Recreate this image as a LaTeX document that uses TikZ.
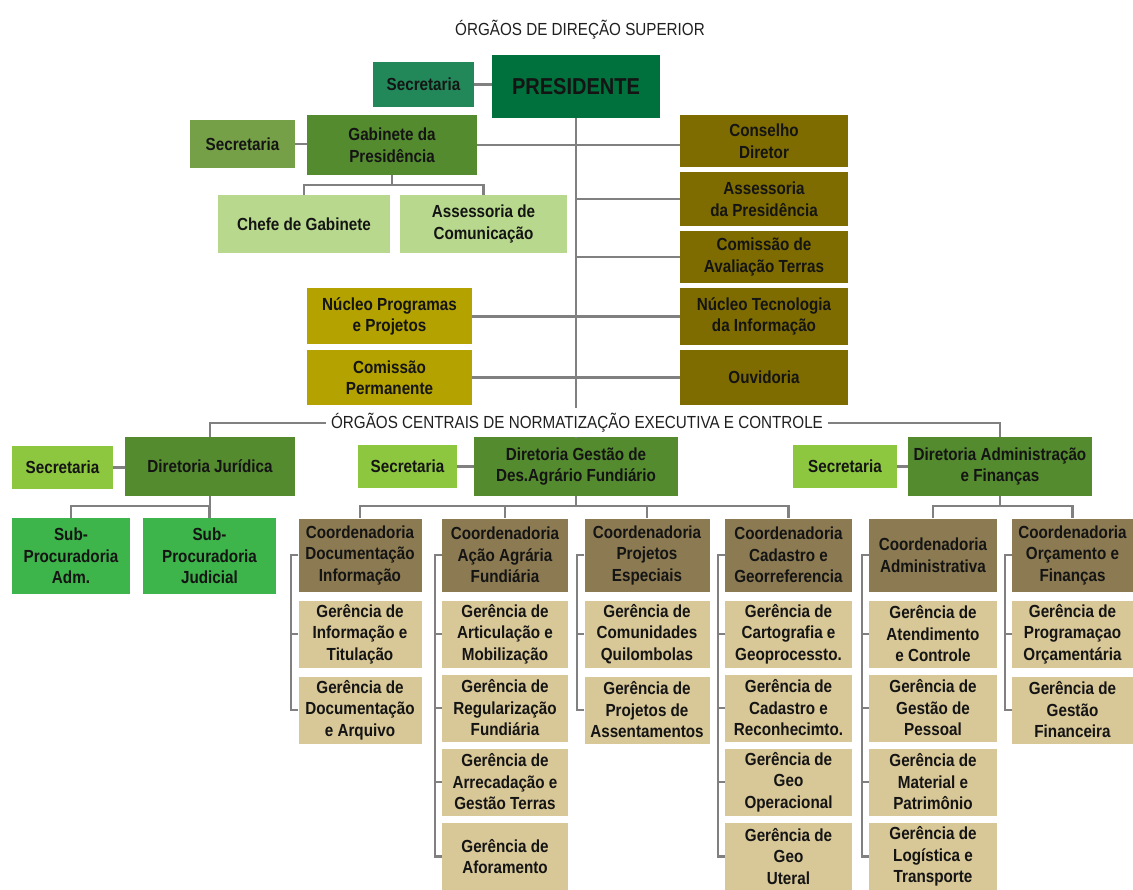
\documentclass[tikz,border=0pt]{standalone}
\usepackage{fontspec}
\setmainfont{Liberation Sans}[FakeStretch=0.87]

\definecolor{presgreen}{HTML}{00703C}
\definecolor{secteal}{HTML}{22885A}
\definecolor{gabgreen}{HTML}{558B2F}
\definecolor{secolive}{HTML}{76A047}
\definecolor{lightgreen}{HTML}{B8D98D}
\definecolor{olivedark}{HTML}{7E6C00}
\definecolor{mustard}{HTML}{B3A200}
\definecolor{seclight}{HTML}{8DC63F}
\definecolor{subgreen}{HTML}{3DB54A}
\definecolor{coordbrown}{HTML}{8C7B52}
\definecolor{gertan}{HTML}{D8C797}
\definecolor{linegray}{HTML}{808080}

\tikzset{
  box/.style={rectangle, align=center, inner sep=1pt, text=black!92,
    font=\bfseries\fontsize{17.5}{21.5}\selectfont},
  titulo/.style={inner sep=5pt, text=black!88, font=\fontsize{17.5}{20}\selectfont},
  link/.style={draw=linegray, line width=2.2pt},
  dir/.style={box, fill=gabgreen, minimum height=59pt},
  sec/.style={box, fill=seclight, minimum height=42pt},
  apoio/.style={box, fill=lightgreen, minimum height=58pt},
  orgao/.style={box, fill=olivedark, minimum width=168pt, minimum height=54pt},
  nucleo/.style={box, fill=mustard, minimum width=165pt, minimum height=56pt},
  sub/.style={box, fill=subgreen, minimum height=76pt},
  coord/.style={box, fill=coordbrown, minimum width=126pt, minimum height=73pt},
  ger/.style={box, fill=gertan, minimum width=126pt, minimum height=67pt}
}

\begin{document}
\begin{tikzpicture}[x=1pt, y=-1pt]
  \useasboundingbox (0,0) rectangle (1133,890);

  % Órgãos de direção superior
  \node[titulo] (t1) at (580,30) {ÓRGÃOS DE DIREÇÃO SUPERIOR};
  \node[box, fill=presgreen, minimum width=168pt, minimum height=63pt,
    font=\bfseries\fontsize{23}{26}\selectfont] (pres) at (576,86.5) {PRESIDENTE};
  \node[box, fill=secteal, minimum width=101pt, minimum height=45pt] (sec0) at (423.5,84.5) {Secretaria};
  \node[dir, minimum width=170pt, minimum height=60pt] (gab) at (392,145) {Gabinete da\\Presidência};
  \node[box, fill=secolive, minimum width=105pt, minimum height=48pt] (sec1) at (242.5,144) {Secretaria};
  \node[apoio, minimum width=172pt] (chefe) at (304,224) {Chefe de Gabinete};
  \node[apoio, minimum width=167pt] (ascom) at (483.5,224) {Assessoria de\\Comunicação};

  % Órgãos ligados ao tronco
  \node[orgao, minimum height=52pt] (cons) at (764,141) {Conselho\\Diretor};
  \node[orgao] (asspres) at (764,199) {Assessoria\\da Presidência};
  \node[orgao, minimum height=52pt] (comav) at (764,257) {Comissão de\\Avaliação Terras};
  \node[orgao, minimum height=57pt] (nutec) at (764,316.5) {Núcleo Tecnologia\\da Informação};
  \node[orgao, minimum height=55pt] (ouv) at (764,377.5) {Ouvidoria};
  \node[nucleo] (nuprog) at (389.5,316.5) {Núcleo Programas\\e Projetos};
  \node[nucleo, minimum height=55pt] (comper) at (389.5,377.5) {Comissão\\Permanente};

  % Ligações da presidência
  \draw[link] (sec0.east) -- (sec0.east -| pres.west);
  \draw[link] (sec1.east) -- (sec1.east -| gab.west);
  \draw[link] (gab.south) -- ++(0,10) coordinate (gbar);
  \draw[link] (gbar) -| (chefe.north);
  \draw[link] (gbar) -| (ascom.north);
  \draw[link] (gab.east) -- (gab.east -| cons.west);
  \draw[link] (asspres.west) -- (asspres.west -| pres.south);
  \draw[link] (comav.west) -- (comav.west -| pres.south);
  \draw[link] (nuprog.east) -- (nuprog.east -| nutec.west);
  \draw[link] (comper.east) -- (comper.east -| ouv.west);

  % Órgãos centrais
  \node[titulo] (t2) at (577,423) {ÓRGÃOS CENTRAIS DE NORMATIZAÇÃO EXECUTIVA E CONTROLE};
  \node[dir, minimum width=170pt] (dirjur) at (210,466.5) {Diretoria Jurídica};
  \node[sec, minimum width=101pt] (secj) at (62.5,467.5) {Secretaria};
  \node[sub, minimum width=118pt] (subadm) at (71,556) {Sub-\\Procuradoria\\Adm.};
  \node[sub, minimum width=133pt] (subjud) at (209.5,556) {Sub-\\Procuradoria\\Judicial};
  \node[dir, minimum width=204pt] (dirgest) at (576,466.5) {Diretoria Gestão de\\Des.Agrário Fundiário};
  \node[sec, minimum width=99pt] (secg) at (407.5,466.5) {Secretaria};
  \node[dir, minimum width=184pt] (diradm) at (1000,466.5) {Diretoria Administração\\e Finanças};
  \node[sec, minimum width=104pt] (seca) at (845,466.5) {Secretaria};

  \draw[link] (pres.south) -- (pres.south |- t2.north);
  \draw[link] (dirgest.north |- t2.south) -- (dirgest.north);
  \draw[link] (t2.west) -| (dirjur.north);
  \draw[link] (t2.east) -| (diradm.north);
  \draw[link] (secj.east) -- (secj.east -| dirjur.west);
  \draw[link] (secg.east) -- (secg.east -| dirgest.west);
  \draw[link] (seca.east) -- (seca.east -| diradm.west);
  \draw[link] (dirjur.south) -- ++(0,10) coordinate (jbar);
  \draw[link] (jbar) -| (subadm.north);
  \draw[link] (jbar) -| (subjud.north);

  % Coordenadorias
  \node[coord, minimum width=123pt] (cdoc) at (360,555) {Coordenadoria\\Documentação\\Informação};
  \node[coord] (cacao) at (505,555) {Coordenadoria\\Ação Agrária\\Fundiária};
  \node[coord, minimum width=125pt] (cproj) at (647,555) {Coordenadoria\\Projetos\\Especiais};
  \node[coord, minimum width=127pt] (ccad) at (788.5,555) {Coordenadoria\\Cadastro e\\Georreferencia};
  \node[coord, minimum width=128pt] (cadm) at (933,555) {Coordenadoria\\Administrativa};
  \node[coord, minimum width=121pt] (corc) at (1072.5,555) {Coordenadoria\\Orçamento e\\Finanças};

  \draw[link] (dirgest.south) -- ++(0,10) coordinate (dbar);
  \foreach \c in {cdoc,cacao,cproj,ccad}
    \draw[link] (dbar) -| (\c.north);
  \draw[link] (diradm.south) -- ++(0,10) coordinate (abar);
  \foreach \c in {cadm,corc}
    \draw[link] (abar) -| (\c.north);

  % Gerências
  \foreach \n/\y/\txt in {g11/634/{Gerência de\\Informação e\\Titulação},
                          g12/710/{Gerência de\\Documentação\\e Arquivo}}
    \node[ger, minimum width=123pt] (\n) at (360,\y) {\txt};
  \foreach \n/\y/\txt in {g21/634/{Gerência de\\Articulação e\\Mobilização},
                          g22/708/{Gerência de\\Regularização\\Fundiária},
                          g23/782/{Gerência de\\Arrecadação e\\Gestão Terras},
                          g24/856.5/{Gerência de\\Aforamento}}
    \node[ger] (\n) at (505,\y) {\txt};
  \foreach \n/\y/\txt in {g31/634/{Gerência de\\Comunidades\\Quilombolas},
                          g32/710/{Gerência de\\Projetos de\\Assentamentos}}
    \node[ger, minimum width=125pt] (\n) at (647,\y) {\txt};
  \foreach \n/\y/\txt in {g41/634/{Gerência de\\Cartografia e\\Geoprocessto.},
                          g42/708/{Gerência de\\Cadastro e\\Reconhecimto.},
                          g43/782/{Gerência de\\Geo\\Operacional},
                          g44/856.5/{Gerência de\\Geo\\Uteral}}
    \node[ger, minimum width=127pt] (\n) at (788.5,\y) {\txt};
  \foreach \n/\y/\txt in {g51/634/{Gerência de\\Atendimento\\e Controle},
                          g52/708/{Gerência de\\Gestão de\\Pessoal},
                          g53/782/{Gerência de\\Material e\\Patrimônio},
                          g54/856.5/{Gerência de\\Logística e\\Transporte}}
    \node[ger, minimum width=128pt] (\n) at (933,\y) {\txt};
  \foreach \n/\y/\txt in {g61/634/{Gerência de\\Programaçao\\Orçamentária},
                          g62/710/{Gerência de\\Gestão\\Financeira}}
    \node[ger, minimum width=121pt] (\n) at (1072.5,\y) {\txt};

  % Chaves laterais
  \foreach \g in {g11,g12}
    \draw[link] (cdoc.west) -- ++(-7,0) |- (\g.west);
  \foreach \g in {g21,g22,g23,g24}
    \draw[link] (cacao.west) -- ++(-7,0) |- (\g.west);
  \foreach \g in {g31,g32}
    \draw[link] (cproj.west) -- ++(-7,0) |- (\g.west);
  \foreach \g in {g41,g42,g43,g44}
    \draw[link] (ccad.west) -- ++(-7,0) |- (\g.west);
  \foreach \g in {g51,g52,g53,g54}
    \draw[link] (cadm.west) -- ++(-7,0) |- (\g.west);
  \foreach \g in {g61,g62}
    \draw[link] (corc.west) -- ++(-7,0) |- (\g.west);
\end{tikzpicture}
\end{document}
